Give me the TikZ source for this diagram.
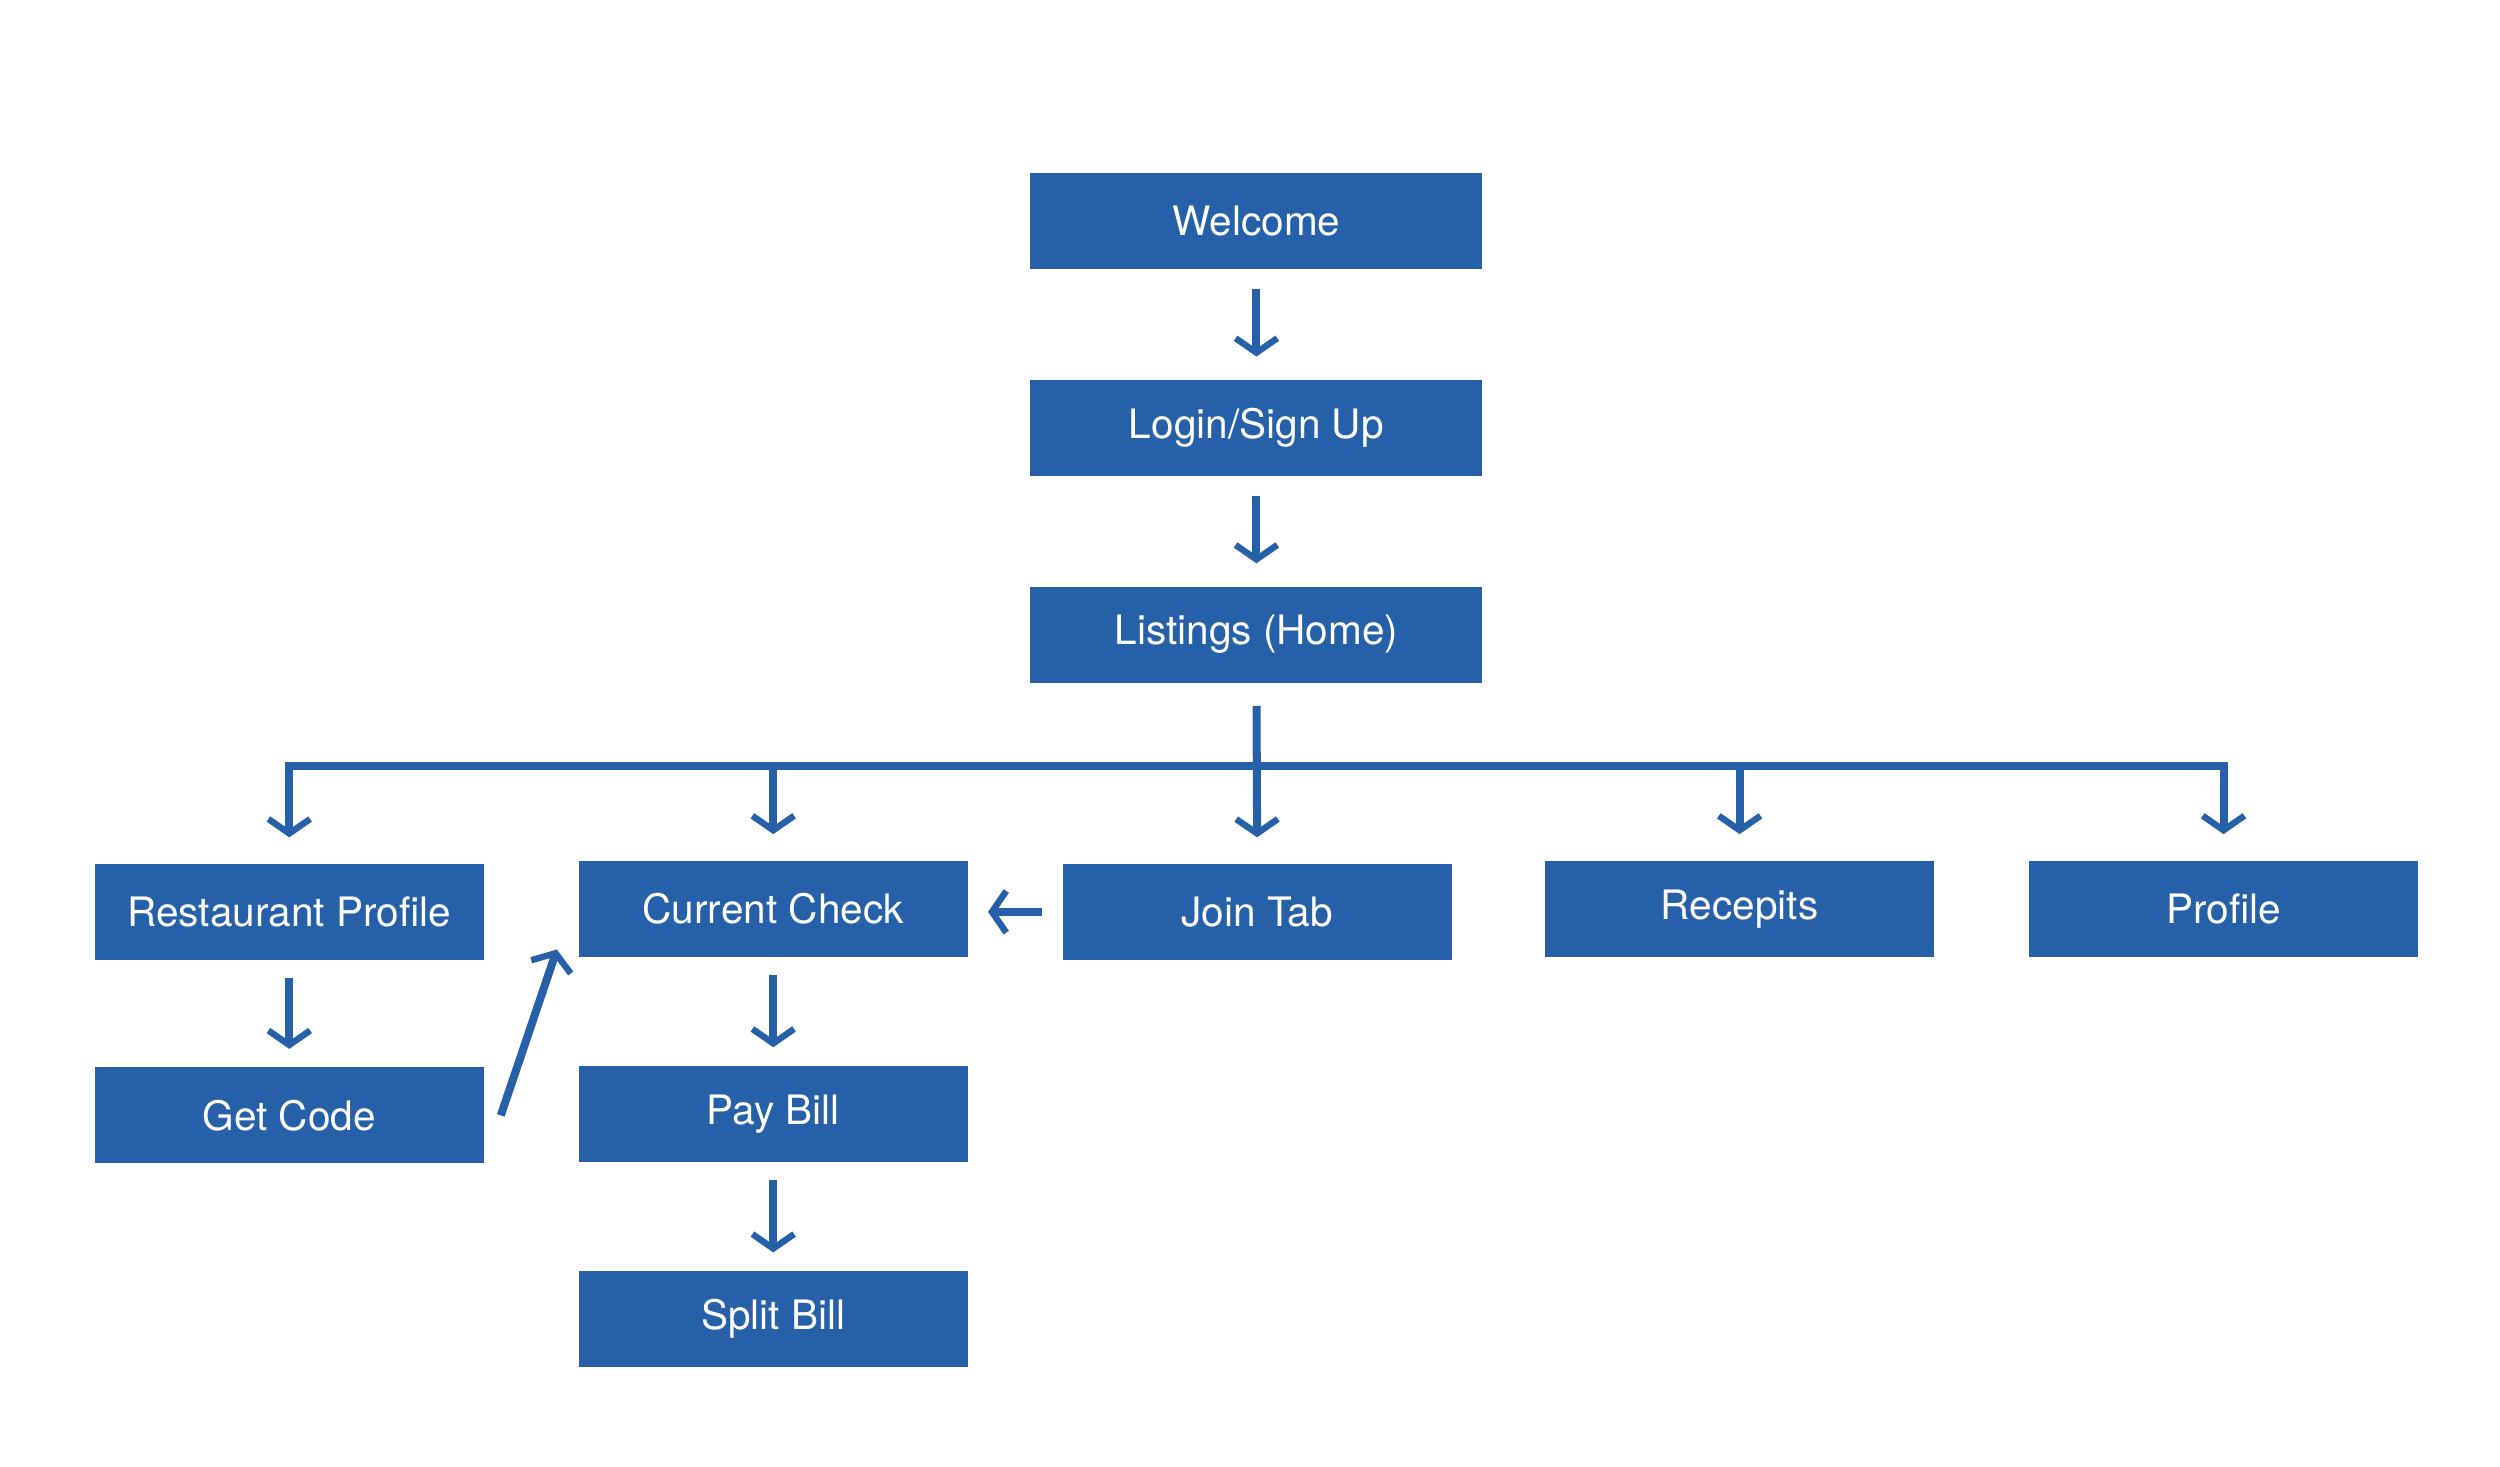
\documentclass[tikz,border=0pt]{standalone}
\usepackage{fontspec}
\setmainfont{TeX Gyre Heros}
\usetikzlibrary{arrows.meta}
\definecolor{boxblue}{HTML}{2660A8}
\begin{document}
\begin{tikzpicture}[every node/.style={rectangle, fill=boxblue, text=white, minimum width=2.43cm, minimum height=0.6cm, inner sep=0pt, font=\fontsize{7.2pt}{8pt}\selectfont}, line width=0.05cm, draw=boxblue, arr/.style={boxblue, -{Straight Barb[length=0.09cm, width=0.26cm, line width=0.04cm]}}]
\useasboundingbox (0,0) rectangle (15.6,9.15);

\node[minimum width=2.82cm] (wel) at (7.84,7.77) {Welcome};
\node[minimum width=2.82cm] (log) at (7.84,6.48) {Login/Sign Up};
\node[minimum width=2.82cm] (lst) at (7.84,5.19) {Listings (Home)};

\node (rp) at (1.805,3.46) {Restaurant Profile};
\node (cc) at (4.825,3.48) {Current Check};
\node (jt) at (7.845,3.46) {Join Tab};
\node (rec) at (10.855,3.48) {Recepits};
\node (pro) at (13.875,3.48) {Profile};

\node (gc) at (1.805,2.19) {Get Code};
\node (pay) at (4.825,2.20) {Pay Bill};
\node (split) at (4.825,0.92) {Split Bill};

\draw[arr, shorten <=0.1cm, shorten >=0.12cm] (wel) -- (log);
\draw[arr, shorten <=0.1cm, shorten >=0.12cm] (log) -- (lst);

% branches
\coordinate (bus) at (7.84,4.37);
\draw[boxblue] ([xshift=-0.025cm]bus -| rp) -- ([xshift=0.025cm]bus -| pro);
\draw[arr, shorten <=0.12cm, shorten >=0.14cm] (lst.south) -- (jt.north);
\foreach \n in {rp,cc,rec,pro}
  \draw[arr, shorten >=0.14cm] (bus -| \n) -- (\n.north);

\draw[arr, shorten <=0.09cm, shorten >=0.09cm] (rp) -- (gc);
\draw[arr, shorten <=0.09cm, shorten >=0.09cm] (cc) -- (pay);
\draw[arr, shorten <=0.09cm, shorten >=0.09cm] (pay) -- (split);
\draw[arr, shorten <=0.1cm, shorten >=0.1cm] (jt.west) -- (jt.west -| cc.east);
\draw[arr] ([xshift=0.08cm]gc.east) -- ([xshift=-0.11cm, yshift=0.07cm]cc.south west);
\end{tikzpicture}
\end{document}
